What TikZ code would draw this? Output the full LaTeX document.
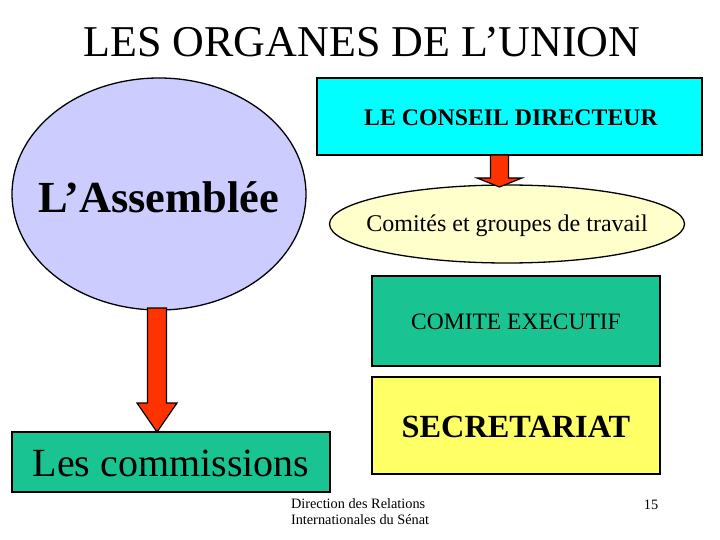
\documentclass[tikz,border=0pt]{standalone}
\usepackage{fontspec}
\setmainfont{Liberation Serif}
\usetikzlibrary{shapes.geometric,calc}
\definecolor{lav}{RGB}{204,204,255}
\definecolor{cyanbox}{RGB}{0,255,255}
\definecolor{lightyel}{RGB}{255,255,204}
\definecolor{tealbox}{RGB}{25,196,146}
\definecolor{yelbox}{RGB}{255,255,102}
\definecolor{arrowred}{RGB}{255,51,0}
\tikzset{
  every node/.style={inner sep=0pt, outer sep=0pt},
  boxstyle/.style={draw=black, line width=1.5pt, rectangle},
  ellstyle/.style={draw=black, line width=1.3pt, ellipse},
  blockarrow/.style={fill=arrowred, draw=black, line width=1.2pt, line join=miter},
  fs/.style 2 args={font=\fontsize{#1}{#2}\selectfont}
}
\begin{document}
\begin{tikzpicture}[x=1pt,y=-1pt]
\useasboundingbox (0,0) rectangle (720,540);
\node[fs={44}{48}] (title) at (362,42) {LES ORGANES DE L’UNION};

\node[ellstyle, fill=lav, minimum width=294pt, minimum height=232pt] (asm) at (159,194) {};
\node[font=\bfseries\fontsize{44.4}{48}\selectfont] (asmtxt) at (159,197) {L’Assemblée};

\node[boxstyle, fill=cyanbox, minimum width=385pt, minimum height=77pt] (cons) at (509.5,116.5) {};
\node[font=\bfseries\fontsize{23.8}{26}\selectfont] (constxt) at (511,118) {LE CONSEIL DIRECTEUR};

\node[ellstyle, fill=lightyel, minimum width=355pt, minimum height=78pt] (comites) at (507,224) {};
\node[fs={24}{28}] (comtxt) at (507,226) {Comités et groupes de travail};

\node[boxstyle, fill=tealbox, minimum width=288pt, minimum height=90pt] (exec) at (516,321) {};
\node[fs={23.5}{26}] (exectxt) at (516,322) {COMITE EXECUTIF};

\node[boxstyle, fill=yelbox, minimum width=288pt, minimum height=97pt] (sec) at (516,425.5) {};
\node[font=\bfseries\fontsize{32.3}{36}\selectfont] (sectxt) at (516,427) {SECRETARIAT};

\node[boxstyle, fill=tealbox, minimum width=318pt, minimum height=60pt] (comm) at (171,462) {};
\node[fs={40}{44}] (commtxt) at (171,463) {Les commissions};

\node[fs={14.3}{16.5}, align=left, anchor=north west] (footer) at (291,498.5) {Direction des Relations\\Internationales du Sénat};
\node[fs={14.3}{16}] (page) at (651,505) {15};

% big arrow: Assemblée -> commissions
\coordinate (a1) at ($(asm.south)+(-2,-2)$);
\coordinate (a2) at (a1 |- comm.north);
\draw[blockarrow] ($(a1)+(-9.5,0)$) -- ($(a2)+(-9.5,-29)$) -- ($(a2)+(-20,-29)$) -- (a2)
  -- ($(a2)+(20,-29)$) -- ($(a2)+(9.5,-29)$) -- ($(a1)+(9.5,0)$) -- cycle;

% small arrow: conseil -> comités
\coordinate (b1) at ($(cons.south)+(-10,0)$);
\coordinate (b2) at ($(b1 |- comites.north)+(0,2)$);
\draw[blockarrow] ($(b1)+(-9,0)$) -- ($(b2)+(-9,-9)$) -- ($(b2)+(-22.5,-9)$) -- (b2)
  -- ($(b2)+(22.5,-9)$) -- ($(b2)+(9,-9)$) -- ($(b1)+(9,0)$) -- cycle;
\end{tikzpicture}
\end{document}
